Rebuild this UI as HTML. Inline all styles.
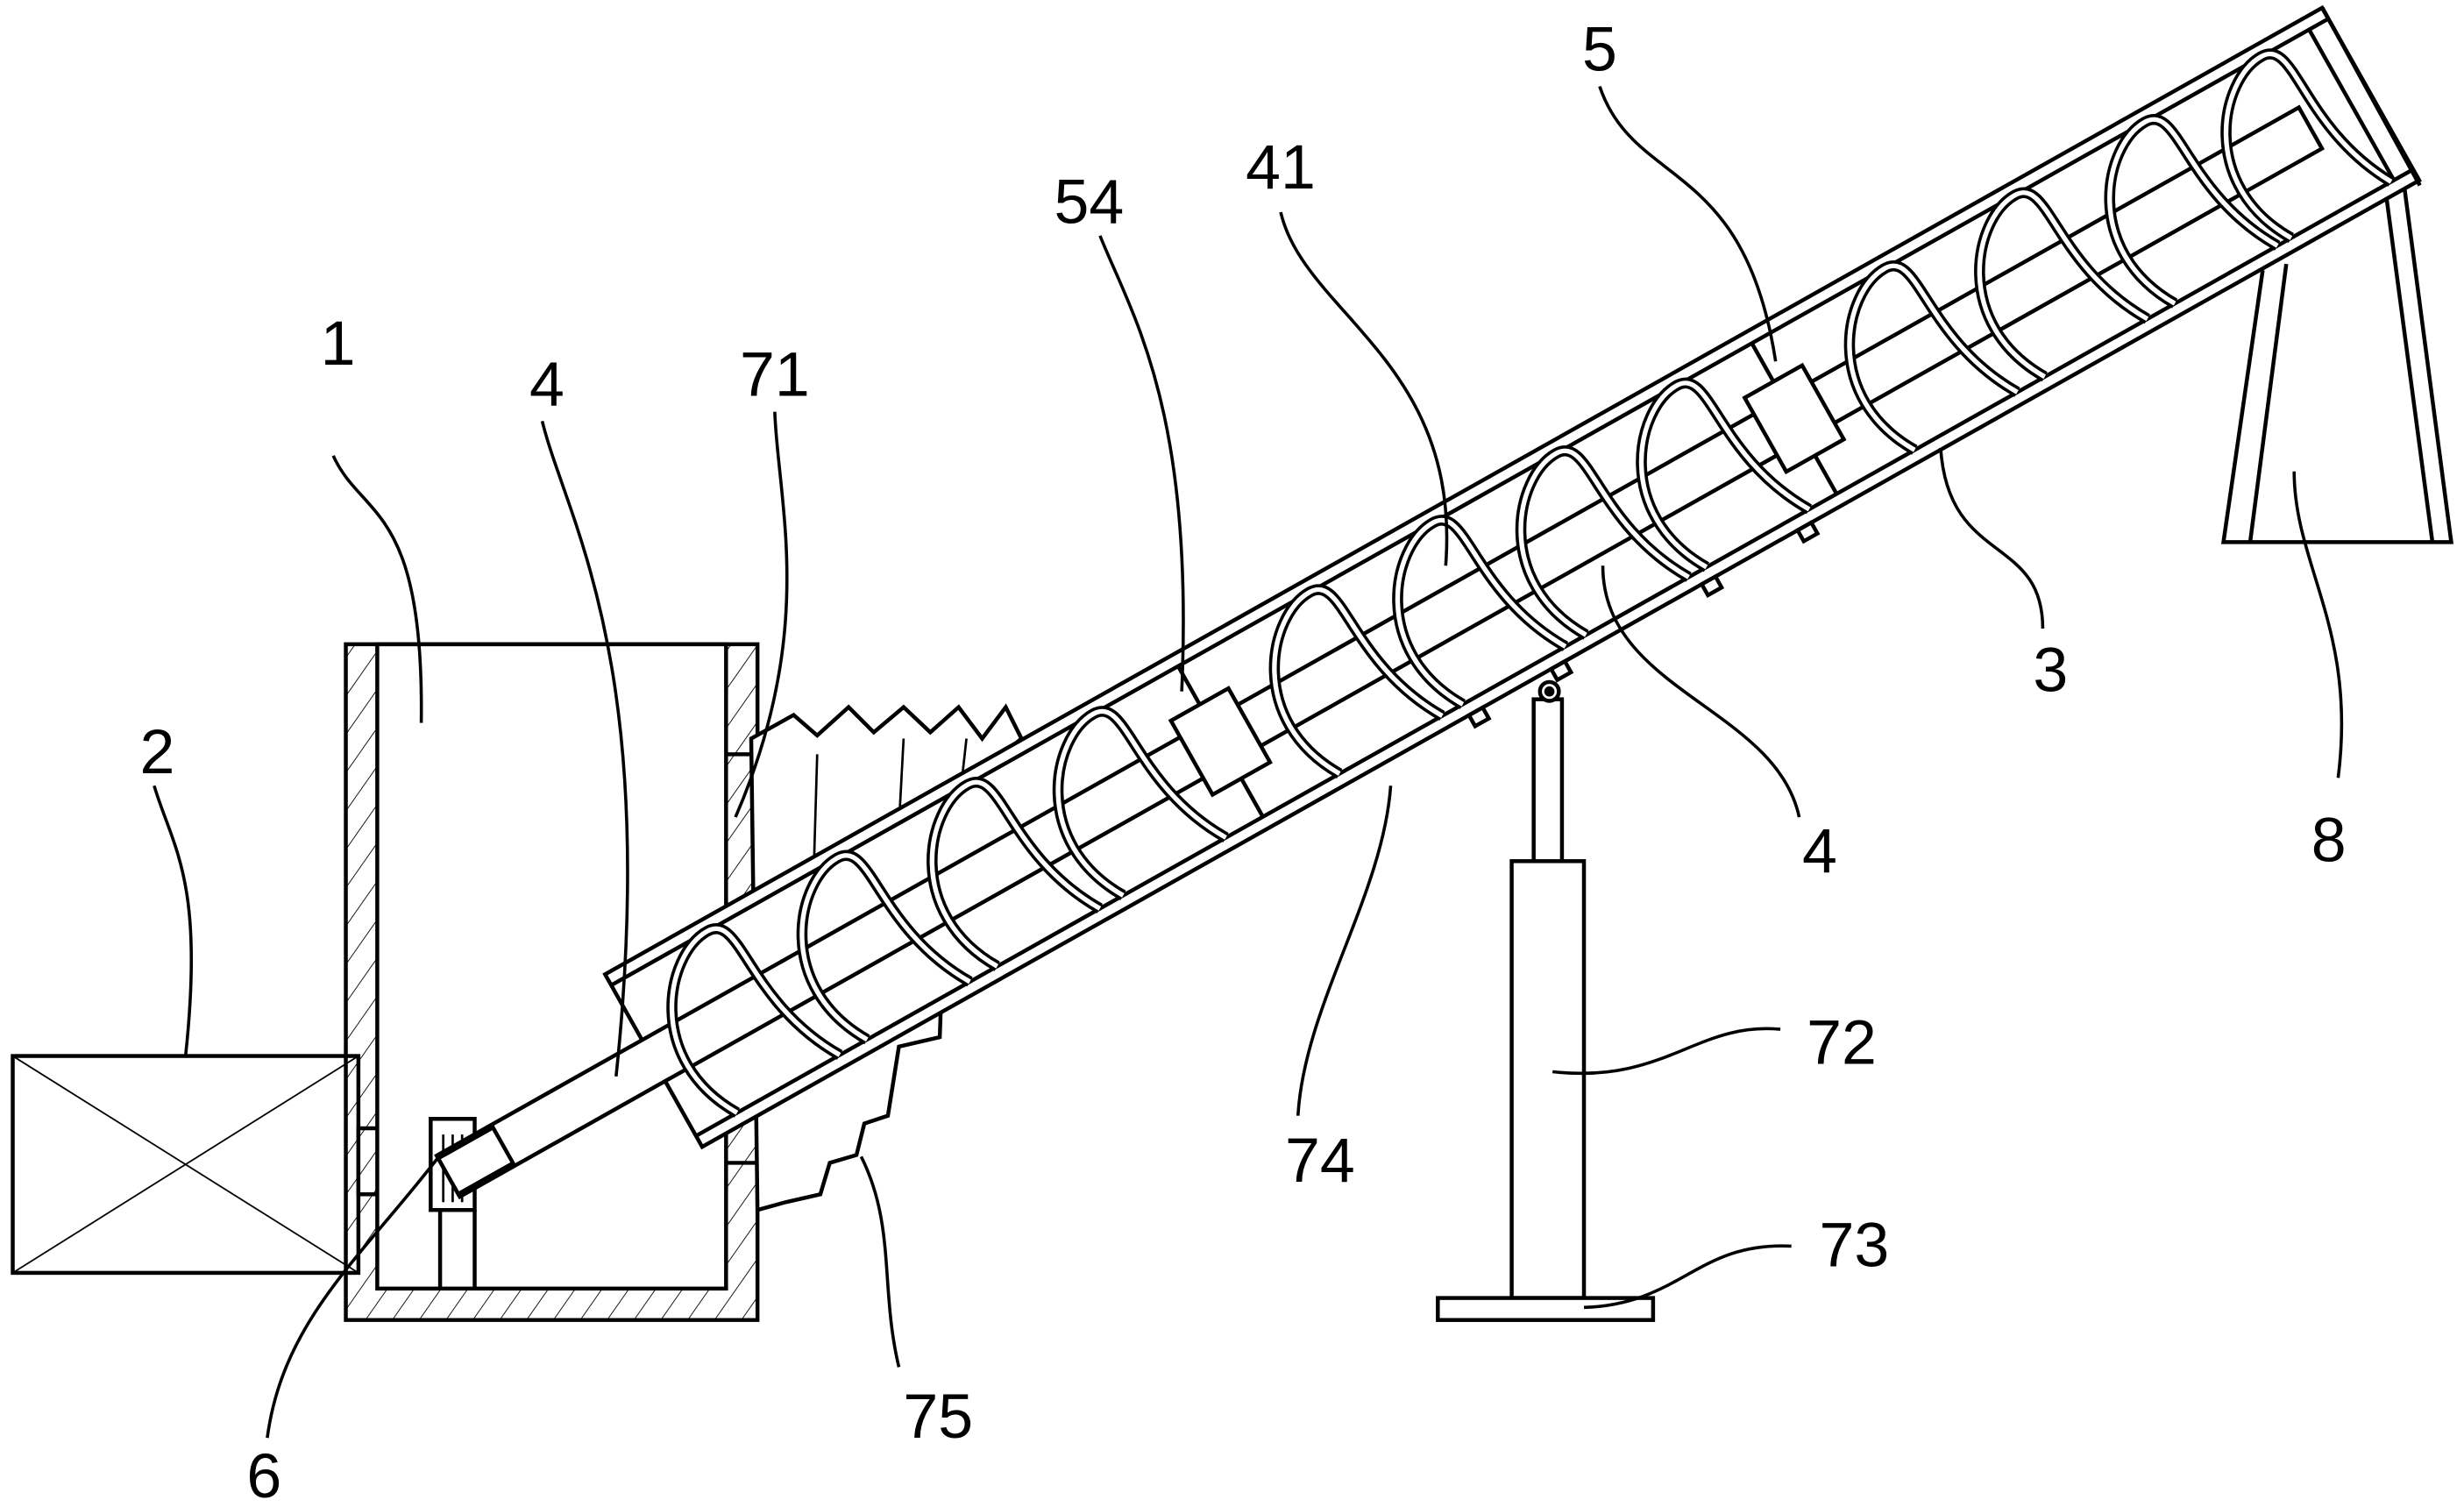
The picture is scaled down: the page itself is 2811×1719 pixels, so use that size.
<!DOCTYPE html>
<html><head><meta charset="utf-8"><style>
html,body{margin:0;padding:0;background:#fff;}
svg{display:block;}
text{font-family:"Liberation Sans",sans-serif;font-size:40px;fill:#000;}
</style></head><body>
<svg width="2811" height="1719" viewBox="0 0 1568 959" xmlns="http://www.w3.org/2000/svg">
<defs>
<pattern id="h" width="14" height="14" patternUnits="userSpaceOnUse" patternTransform="rotate(35)">
<line x1="0" y1="0" x2="0" y2="14" stroke="#000" stroke-width="1"/>
</pattern>
</defs>
<g fill="none" stroke="#000" stroke-width="2.5">
<rect x="8" y="672" width="220" height="138" fill="#fff"/>
<line x1="8" y1="672" x2="228" y2="810" stroke-width="1"/>
<line x1="8" y1="810" x2="228" y2="672" stroke-width="1"/>
<rect x="228" y="718" width="48" height="42" fill="#fff"/>
<path d="M220,410 H482 V840 H220 Z" fill="url(#h)"/>
<rect x="240" y="410" width="222" height="410" fill="#fff"/>
<line x1="462" y1="480" x2="482" y2="480"/>
<line x1="462" y1="740" x2="482" y2="740"/>
<path d="M478,470 L505,455 L520,468 L540,450 L556,466 L575,450 L592,466 L610,450 L625,470 L640,450 L650,470 L638,480 L632,540 L618,545 L612,600 L600,605 L598,660 L572,666 L565,710 L550,715 L545,735 L528,740 L522,760 L500,765 L482,770 Z" fill="#fff"/>
<line x1="575" y1="470" x2="568" y2="600" stroke-width="1.5"/>
<line x1="520" y1="480" x2="515" y2="650" stroke-width="1.5"/>
<line x1="615" y1="470" x2="605" y2="560" stroke-width="1.5"/>
<rect x="274" y="712" width="28" height="58" fill="#fff"/>
<line x1="282" y1="722" x2="282" y2="765" stroke-width="1.5"/>
<line x1="288" y1="722" x2="288" y2="765" stroke-width="1.5"/>
<line x1="294" y1="722" x2="294" y2="765" stroke-width="1.5"/>
<line x1="280" y1="770" x2="280" y2="820"/>
<line x1="302" y1="770" x2="302" y2="820"/>
<path d="M1440,172 L1415,345 H1560 L1530,118" fill="#fff"/>
<line x1="1455" y1="168" x2="1432" y2="345"/>
<line x1="1518" y1="120" x2="1548" y2="345"/>
<rect x="976" y="445" width="18" height="105" fill="#fff"/>
<rect x="962" y="548" width="46" height="278" fill="#fff"/>
<rect x="915" y="826" width="137" height="14" fill="#fff"/>
<circle cx="986" cy="440" r="6" fill="#fff"/>
<circle cx="986" cy="440" r="2" fill="#000"/>
<g transform="translate(385,620) rotate(-29.37)">
<rect x="0" y="0" width="1254" height="126" fill="#fff"/>
<line x1="0" y1="8" x2="1254" y2="8"/>
<line x1="0" y1="118" x2="1254" y2="118"/>
<line x1="1254" y1="0" x2="1254" y2="126"/>
<line x1="1240" y1="8" x2="1240" y2="118"/>
<rect x="560" y="126" width="10" height="8"/>
<rect x="620" y="126" width="10" height="8"/>
<rect x="730" y="126" width="10" height="8"/>
<rect x="800" y="126" width="10" height="8"/>
<rect x="-150" y="48" width="1360" height="30" fill="#fff"/>
<rect x="-150" y="50" width="40" height="26" fill="#fff"/>
<g stroke-width="7">
<path d="M30,118 C-5,60 40,8 70,8 C95,8 70,60 105,118"/>
<path d="M125,118 C90,60 135,8 165,8 C190,8 165,60 200,118"/>
<path d="M220,118 C185,60 230,8 260,8 C285,8 260,60 295,118"/>
<path d="M312,118 C277,60 322,8 352,8 C377,8 352,60 387,118"/>
<path d="M470,118 C435,60 480,8 510,8 C535,8 510,60 545,118"/>
<path d="M560,118 C525,60 570,8 600,8 C625,8 600,60 635,118"/>
<path d="M650,118 C615,60 660,8 690,8 C715,8 690,60 725,118"/>
<path d="M738,118 C703,60 748,8 778,8 C803,8 778,60 813,118"/>
<path d="M890,118 C855,60 900,8 930,8 C955,8 930,60 965,118"/>
<path d="M985,118 C950,60 995,8 1025,8 C1050,8 1025,60 1060,118"/>
<path d="M1080,118 C1045,60 1090,8 1120,8 C1145,8 1120,60 1155,118"/>
<path d="M1165,118 C1130,60 1175,8 1205,8 C1230,8 1205,60 1238,118"/>
</g>
<g stroke="#fff" stroke-width="3">
<path d="M30,118 C-5,60 40,8 70,8 C95,8 70,60 105,118"/>
<path d="M125,118 C90,60 135,8 165,8 C190,8 165,60 200,118"/>
<path d="M220,118 C185,60 230,8 260,8 C285,8 260,60 295,118"/>
<path d="M312,118 C277,60 322,8 352,8 C377,8 352,60 387,118"/>
<path d="M470,118 C435,60 480,8 510,8 C535,8 510,60 545,118"/>
<path d="M560,118 C525,60 570,8 600,8 C625,8 600,60 635,118"/>
<path d="M650,118 C615,60 660,8 690,8 C715,8 690,60 725,118"/>
<path d="M738,118 C703,60 748,8 778,8 C803,8 778,60 813,118"/>
<path d="M890,118 C855,60 900,8 930,8 C955,8 930,60 965,118"/>
<path d="M985,118 C950,60 995,8 1025,8 C1050,8 1025,60 1060,118"/>
<path d="M1080,118 C1045,60 1090,8 1120,8 C1145,8 1120,60 1155,118"/>
<path d="M1165,118 C1130,60 1175,8 1205,8 C1230,8 1205,60 1238,118"/>
</g>
<rect x="393" y="36" width="42" height="54" fill="#fff"/>
<line x1="414" y1="8" x2="414" y2="36"/><line x1="414" y1="90" x2="414" y2="118"/>
<rect x="812" y="36" width="42" height="54" fill="#fff"/>
<line x1="833" y1="8" x2="833" y2="36"/><line x1="833" y1="90" x2="833" y2="118"/>
</g>
<line x1="1478" y1="5" x2="1540" y2="118"/>
<g stroke-width="2">
<path d="M212,290 C230,330 270,320 268,460"/>
<path d="M98,500 C110,540 130,560 118,672"/>
<path d="M345,268 C360,330 420,420 392,685"/>
<path d="M493,262 C495,320 520,400 468,520"/>
<path d="M700,150 C720,200 760,260 752,440"/>
<path d="M815,135 C830,200 930,230 920,360"/>
<path d="M1018,55 C1040,120 1110,100 1130,230"/>
<path d="M1300,400 C1300,340 1240,360 1235,285"/>
<path d="M1145,520 C1130,450 1020,440 1020,360"/>
<path d="M1488,495 C1500,400 1460,360 1460,300"/>
<path d="M1133,655 C1080,650 1060,690 988,682"/>
<path d="M1140,793 C1080,790 1070,830 1008,832"/>
<path d="M826,710 C830,640 880,570 885,500"/>
<path d="M572,870 C560,820 570,780 548,736"/>
<path d="M170,915 C180,840 230,800 280,735"/>
</g>
</g>
<g text-anchor="middle">
<text x="215" y="232">1</text>
<text x="100" y="492">2</text>
<text x="348" y="258">4</text>
<text x="493" y="252">71</text>
<text x="693" y="142">54</text>
<text x="815" y="120">41</text>
<text x="1018" y="45">5</text>
<text x="1305" y="440">3</text>
<text x="1158" y="555">4</text>
<text x="1482" y="548">8</text>
<text x="1172" y="677">72</text>
<text x="1180" y="806">73</text>
<text x="840" y="752">74</text>
<text x="597" y="915">75</text>
<text x="168" y="953">6</text>
</g>
</svg>
</body></html>
